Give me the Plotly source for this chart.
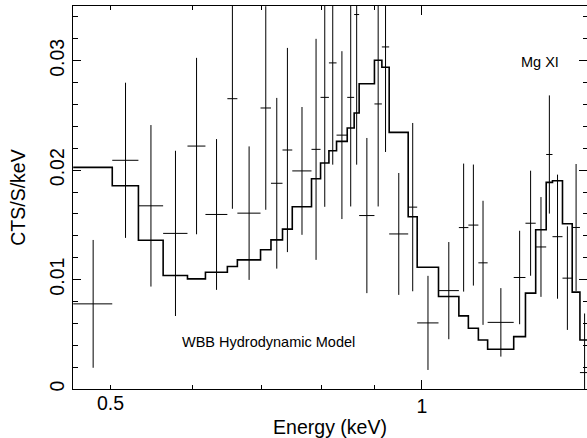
import numpy as np
import plotly.graph_objects as go

# Bin edges (keV) shared by data and model
edges = [0.4602, 0.5020, 0.5321, 0.5622, 0.5935, 0.6177, 0.6486, 0.6632, 0.6983,
         0.7147, 0.7333, 0.7494, 0.7822, 0.7981, 0.8131, 0.8270, 0.8469, 0.8601,
         0.8697, 0.8998, 0.9148, 0.9298, 0.9700, 0.9896, 1.0377, 1.0858, 1.1090,
         1.1340, 1.1576, 1.2268, 1.2593, 1.2883, 1.3188, 1.3374, 1.3675, 1.3974,
         1.4216, 1.4513]

# Observed rate (CTS/S/keV) and 1-sigma errors
rate = [0.00778, 0.0209, 0.01674, 0.01422, 0.0222, 0.01595, 0.02653, 0.01607,
        0.02568, 0.0188, 0.02184, 0.01993, 0.0219, 0.02665, 0.0298, 0.0232,
        0.02665, 0.03422, 0.01585, 0.02605, 0.03126, 0.01417, 0.01662, 0.00604,
        0.00899, 0.01475, 0.01498, 0.01153, 0.00609, 0.01019, 0.01515, 0.01298,
        0.02143, 0.01392, 0.01013, 0.01476, 0.0015]
rate_err = [0.00584, 0.00709, 0.00738, 0.00755, 0.00806, 0.00689, 0.01006, 0.0061,
            0.0093, 0.0078, 0.00933, 0.00584, 0.0101, 0.01, 0.0093, 0.00767,
            0.00997, 0.01372, 0.00709, 0.00937, 0.0096, 0.00557, 0.00769, 0.0043,
            0.00444, 0.00585, 0.00553, 0.00567, 0.00313, 0.00427, 0.0048, 0.00456,
            0.0054, 0.00567, 0.00473, 0.0058, 0.0054]

# WBB hydrodynamic model (folded), per bin
model = [0.02025, 0.01857, 0.0136, 0.01037, 0.01006, 0.01067, 0.01119, 0.0118,
         0.01272, 0.01363, 0.01461, 0.01665, 0.01921, 0.02065, 0.02177, 0.02263,
         0.02385, 0.02522, 0.0279, 0.03004, 0.0294, 0.02345, 0.01574, 0.01113,
         0.00845, 0.00668, 0.00555, 0.00448, 0.00363, 0.00479, 0.00876, 0.01455,
         0.01888, 0.01903, 0.0151, 0.00885, 0.00448]

y_major = [0, 0.01, 0.02, 0.03]
y_major_text = ["0", "0.01", "0.02", "0.03"]

lo = np.array(edges[:-1])
hi = np.array(edges[1:])
xc = (lo + hi) / 2
xw = (hi - lo) / 2

FONT = "Liberation Sans, Arial, Helvetica, sans-serif"

fig = go.Figure()
fig.add_trace(go.Scatter(
    x=edges, y=model + [model[-1]], mode="lines",
    line=dict(shape="hv", color="black", width=1.6), hoverinfo="skip"))
fig.add_trace(go.Scatter(
    x=xc, y=rate, mode="markers",
    marker=dict(size=1, color="rgba(0,0,0,0)"),
    error_x=dict(type="data", array=xw, thickness=1, width=0, color="black"),
    error_y=dict(type="data", array=rate_err, thickness=1, width=0, color="black")))
# helper traces so the tick-only overlay axes are drawn
fig.add_trace(go.Scatter(x=[1.0], y=[None], xaxis="x2", mode="markers",
                         marker=dict(opacity=0), hoverinfo="skip"))
fig.add_trace(go.Scatter(x=[1.0], y=[None], yaxis="y2", mode="markers",
                         marker=dict(opacity=0), hoverinfo="skip"))

xr = [np.log10(0.46), np.log10(0.46) + 514 / 1034.5]
yr = [0, 0.035]
ytick_common = dict(range=yr, showgrid=False, zeroline=False,
                    ticks="inside", ticklen=8, tickcolor="black", tickwidth=1,
                    tickvals=y_major,
                    minor=dict(dtick=0.002, tick0=0, ticks="inside", ticklen=4.5,
                               tickcolor="black", tickwidth=1))

fig.update_layout(
    width=587, height=438, autosize=False,
    margin=dict(l=73, r=0, t=6, b=49),
    paper_bgcolor="white", plot_bgcolor="white",
    showlegend=False,
    font=dict(family=FONT, color="black"),
    xaxis=dict(type="log", range=xr, showgrid=False, zeroline=False,
               showline=True, linecolor="black", linewidth=1, mirror="ticks",
               ticks="inside", ticklen=9, tickcolor="black", tickwidth=1,
               tickvals=[1], ticktext=["1"], tickfont=dict(size=19.5),
               minor=dict(tickvals=[0.5, 0.6, 0.7, 0.8, 0.9], ticks="inside",
                          ticklen=4, tickcolor="black", tickwidth=1),
               title=dict(text="Energy (keV)", font=dict(size=19.5), standoff=5)),
    xaxis2=dict(type="log", range=xr, overlaying="x", anchor="y", side="bottom",
                showgrid=False, zeroline=False, showline=False, ticks="",
                tickvals=[0.5], ticktext=["0.5"], tickfont=dict(size=19.5)),
    yaxis=dict(**ytick_common, showline=True, linecolor="black", linewidth=1,
               mirror=False, ticktext=y_major_text, tickangle=-90,
               tickfont=dict(size=19.5),
               title=dict(text="CTS/S/keV", font=dict(size=19.5), standoff=15)),
    yaxis2=dict(**ytick_common, overlaying="y", anchor="x", side="right",
                showline=False, showticklabels=False),
    annotations=[
        dict(text="WBB Hydrodynamic Model", xref="paper", yref="paper",
             x=(180 - 73) / 514, y=(389 - 341.7) / 383, xanchor="left",
             yanchor="middle", showarrow=False, font=dict(size=14.5)),
        dict(text="Mg XI", xref="paper", yref="paper",
             x=(539.5 - 73) / 514, y=(389 - 61.7) / 383, xanchor="center",
             yanchor="middle", showarrow=False, font=dict(size=14.5)),
    ],
)

fig.write_html("out.html")
